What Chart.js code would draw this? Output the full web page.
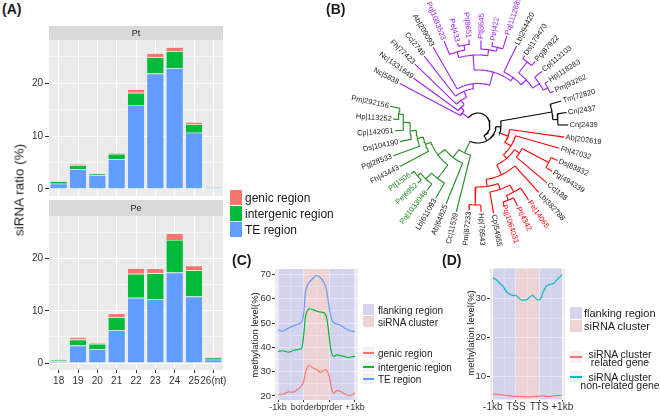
<!DOCTYPE html>
<html>
<head>
<meta charset="utf-8">
<script src="https://cdn.jsdelivr.net/npm/chart.js@4.4.0/dist/chart.umd.min.js"></script>
<style>
	body { margin: 0; width: 660px; height: 418px; position: relative; overflow: hidden; background: #fff; font-family: "Liberation Sans", Arial, sans-serif; color: #1a1a1a; }
	canvas { position: absolute; }
	.txt { position: absolute; white-space: nowrap; }
	.mid { transform: translateY(-50%); }
	.rot { transform: translate(-50%, -50%) rotate(-90deg); }
	.tag { font-weight: bold; font-size: 14px; }
	.key { position: absolute; }
	.line { position: absolute; left: 0; width: 100%; height: 2px; }
</style>
</head>
<body>
<canvas id="ptChart" width="240" height="170" style="left:0;top:26px"></canvas>
<canvas id="peChart" width="240" height="200" style="left:0;top:200px"></canvas>
<canvas id="treeChart" width="330" height="258" style="left:330px;top:0"></canvas>
<canvas id="cChart" width="150" height="158" style="left:230px;top:260px"></canvas>
<canvas id="dChart" width="140" height="158" style="left:440px;top:260px"></canvas>

<div class="txt tag" style="left:2px;top:1px">(A)</div>
<div class="txt tag" style="left:326px;top:1px">(B)</div>
<div class="txt tag" style="left:232px;top:252px">(C)</div>
<div class="txt tag" style="left:442px;top:252px">(D)</div>

<div class="txt rot" style="left:19px;top:190px;font-size:13.5px">siRNA ratio (%)</div>
<div class="txt rot" style="left:254px;top:335px;font-size:9.5px">methylation level(%)</div>
<div class="txt rot" style="left:470px;top:333px;font-size:9.5px">methylation level(%)</div>

<!-- legend (A) -->
<div class="key" style="left:230px;top:190px;width:12px;height:15px;background:#F8766D"></div>
<div class="key" style="left:230px;top:206px;width:12px;height:15px;background:#00BA38"></div>
<div class="key" style="left:230px;top:222px;width:12px;height:15px;background:#619CFF"></div>
<div class="txt mid" style="left:245px;top:197.5px;font-size:12px">genic region</div>
<div class="txt mid" style="left:245px;top:213.5px;font-size:12px">intergenic region</div>
<div class="txt mid" style="left:245px;top:229.5px;font-size:12px">TE region</div>

<!-- legend (C) -->
<div class="key" style="left:363px;top:304px;width:11px;height:11px;background:#D4D4ED"></div>
<div class="key" style="left:363px;top:316px;width:11px;height:11px;background:#EDD4D4"></div>
<div class="txt mid" style="left:378px;top:309.5px;font-size:10px">flanking region</div>
<div class="txt mid" style="left:378px;top:321.5px;font-size:10px">siRNA cluster</div>
<div class="key" style="left:363px;top:347px;width:11px;height:11px;background:#F2F2F2"><div class="line" style="top:4.5px;background:#F8766D"></div></div>
<div class="key" style="left:363px;top:361px;width:11px;height:11px;background:#F2F2F2"><div class="line" style="top:4.5px;background:#00BA38"></div></div>
<div class="key" style="left:363px;top:373px;width:11px;height:11px;background:#F2F2F2"><div class="line" style="top:4.5px;background:#619CFF"></div></div>
<div class="txt mid" style="left:378px;top:352.5px;font-size:10px">genic region</div>
<div class="txt mid" style="left:378px;top:366.5px;font-size:10px">intergenic region</div>
<div class="txt mid" style="left:378px;top:378.5px;font-size:10px">TE region</div>

<!-- legend (D) -->
<div class="key" style="left:570px;top:307px;width:12px;height:12px;background:#D4D4ED"></div>
<div class="key" style="left:570px;top:320px;width:12px;height:12px;background:#EDD4D4"></div>
<div class="txt mid" style="left:584px;top:312.5px;font-size:11px">flanking region</div>
<div class="txt mid" style="left:584px;top:326px;font-size:11px">siRNA cluster</div>
<div class="key" style="left:570px;top:351px;width:12px;height:12px;background:#F2F2F2"><div class="line" style="top:5px;background:#F8766D"></div></div>
<div class="key" style="left:570px;top:371px;width:12px;height:12px;background:#F2F2F2"><div class="line" style="top:5px;background:#00BFC4"></div></div>
<div class="txt" style="left:620px;top:358px;transform:translate(-50%,-50%);font-size:10.5px;line-height:7.5px;text-align:center">siRNA cluster<br>related gene</div>
<div class="txt" style="left:620px;top:381px;transform:translate(-50%,-50%);font-size:10.5px;line-height:8px;text-align:center">siRNA cluster<br>non-related gene</div>

<script>
// --- (A) siRNA ratio per length, stacked by region ---
const aCategories = ["18", "19", "20", "21", "22", "23", "24", "25", "26(nt)"];
const ptTE = [1.0, 3.75, 2.55, 5.65, 15.9, 21.85, 22.85, 10.65, 0.35];
const ptIntergenic = [0.45, 0.75, 0.35, 1.0, 2.3, 3.05, 3.25, 1.6, 0.05];
const ptGenic = [0.05, 0.25, 0.15, 0.2, 0.65, 0.8, 0.75, 0.4, 0.05];
const peTE = [0.35, 3.35, 2.65, 6.3, 12.5, 12.25, 17.35, 12.75, 0.65];
const peIntergenic = [0.25, 1.15, 1.0, 2.45, 4.6, 4.95, 6.25, 5.0, 0.4];
const peGenic = [0.05, 0.45, 0.2, 0.75, 1.1, 0.95, 1.25, 0.95, 0.2];
const aYTicks = [0, 10, 20];

// --- (C) methylation around siRNA clusters ---
const cPos = [0, 0.2, 0.4, 0.6, 0.8, 0.92, 1.0, 1.08, 1.2, 1.35, 1.5, 1.65, 1.8, 1.9, 2.0, 2.08, 2.16, 2.3, 2.45, 2.6, 2.75, 2.9, 3.0];
const cGenic = [20.6, 20.8, 21.7, 21.6, 23.0, 24.2, 26.0, 30.0, 32.6, 31.6, 30.9, 29.7, 30.6, 30.5, 28.0, 23.5, 21.2, 22.2, 21.8, 20.8, 20.2, 20.5, 21.3];
const cIntergenic = [38.3, 38.6, 38.0, 38.7, 39.2, 39.5, 45.0, 53.0, 55.8, 55.5, 54.9, 54.5, 54.2, 52.0, 44.0, 38.0, 36.3, 36.9, 36.5, 36.2, 35.8, 36.2, 36.3];
const cTE = [47.1, 46.7, 47.9, 48.8, 49.6, 50.3, 54.0, 63.5, 66.5, 68.2, 69.6, 68.6, 66.5, 63.0, 56.0, 51.9, 50.2, 49.6, 49.0, 47.8, 47.0, 46.6, 46.6];
const cXLabels = ["-1kb", "border", "bprder", "+1kb"];
const cYTicks = [20, 30, 40, 50, 60, 70];

// --- (D) methylation of genes ---
const dPos = [0, 0.17, 0.31, 0.45, 0.6, 0.75, 0.89, 1.0, 1.1, 1.25, 1.46, 1.61, 1.72, 1.82, 1.97, 2.07, 2.18, 2.33, 2.47, 2.61, 2.76, 2.9, 3.0];
const dRelated = [5.6, 5.5, 5.4, 5.3, 5.2, 5.1, 5.0, 5.0, 4.95, 4.9, 4.85, 4.85, 4.9, 4.95, 5.0, 5.05, 5.1, 5.0, 4.95, 5.1, 5.15, 5.2, 5.2];
const dNonRelated = [35.3, 34.7, 33.8, 33.0, 31.7, 31.0, 30.7, 30.8, 30.2, 29.6, 29.7, 30.4, 30.8, 30.2, 29.6, 30.0, 31.7, 33.2, 33.6, 33.8, 34.7, 35.5, 36.1];
const dXLabels = ["-1kb", "TSS", "TTS", "+1kb"];
const dYTicks = [10, 20, 30];

// region borders shared by (C) and (D): flanking | cluster | flanking
const regionEdges = [0, 1, 2, 3];

// --- (B) tree: tips in clockwise order, their depth, and internal nodes ---
const tipNames = [
	"Nc|5838", "Nc|1331649", "Fh|77423", "Cc|2749", "Ab|209093", "Pq|1083523", "Pe|433", "Pt|8651",
	"Pt|8645", "Pe|422", "Pq|1112885", "Lb|294420", "Ds|179470", "Pg|87922", "Cp|113103", "Hp|118283",
	"Pm|93262", "Tm|72820", "Cn|2437", "Cn|2439", "Ab|202619", "Fh|47032", "Ds|83832", "Pg|494339",
	"Cc|188", "Lb|382788", "Pe|14065", "Pt|4342", "Pq|1064031", "Cp|54955", "Hp|78543", "Pm|87233",
	"Cc|11539", "Ab|64825", "Lb|611093", "Pq|1033048", "Pe|6952", "Pt|1506", "Fh|43443", "Pg|28533",
	"Ds|104190", "Cp|142051", "Hp|113252", "Pm|292156",
];
const tipDepth = [
	88.6, 79.5, 87.7, 87.3, 89.7, 90.6, 84.3, 86, 84.5, 84.2, 93.4, 88, 83.5, 85.6, 83.6, 82.6,
	83, 86.8, 89.4, 90, 87, 84.6, 87, 87.2, 90, 90.8, 90.3, 90.1, 82.5, 89.5, 86.7, 85.7,
	89.4, 85, 84.5, 82.8, 83.5, 82.5, 88.4, 90.2, 79.8, 83.2, 84.9, 89.8,
];
const treeNodes = [
	["Root", 12, ["P0", "Y"]],
	["Y", 18, ["Z", "G0"]],
	["Z", 23, ["B0", "R0"]],
	["B0", 75, ["Tm|72820", "B1"]],
	["B1", 80, ["Cn|2437", "Cn|2439"]],
	["P0", 20, ["Nc|5838", "P1"]],
	["P1", 24.6, ["Nc|1331649", "P2"]],
	["P2", 30, ["Fh|77423", "P3"]],
	["P3", 36.5, ["Cc|2749", "P4"]],
	["P4", 41.5, ["Ab|209093", "P5"]],
	["P5", 55, ["Ptop", "Pright"]],
	["Ptop", 70, ["PtopA", "PtopB"]],
	["PtopA", 76, ["Pq|1083523", "PtopA2"]],
	["PtopA2", 81, ["Pe|433", "Pt|8651"]],
	["PtopB", 76, ["Pt|8645", "PtopB2"]],
	["PtopB2", 80, ["Pe|422", "Pq|1112885"]],
	["Pright", 59, ["Lb|294420", "Pr2"]],
	["Pr2", 66, ["Pr3", "Pr4"]],
	["Pr3", 80, ["Ds|179470", "Pg|87922"]],
	["Pr4", 74, ["Cp|113103", "Pr5"]],
	["Pr5", 79, ["Hp|118283", "Pm|93262"]],
	["R0", 32, ["Ab|202619", "R1"]],
	["R1", 39, ["Fh|47032", "R2"]],
	["R2", 44, ["R3", "R4"]],
	["R3", 50, ["R5", "Cc|188"]],
	["R5", 80, ["Ds|83832", "Pg|494339"]],
	["R4", 55, ["Lb|382788", "R6"]],
	["R6", 62, ["R7", "R8"]],
	["R7", 68, ["R9", "Cp|54955"]],
	["R9", 76, ["Pe|14065", "R10"]],
	["R10", 81, ["Pt|4342", "Pq|1064031"]],
	["R8", 80, ["Hp|78543", "Pm|87233"]],
	["G0", 31, ["Cc|11539", "G1"]],
	["G1", 41, ["Ab|64825", "G2"]],
	["G2", 50, ["G3", "G4"]],
	["G3", 67, ["Lb|611093", "G5"]],
	["G5", 75, ["Pq|1033048", "G6"]],
	["G6", 79, ["Pe|6952", "Pt|1506"]],
	["G4", 56, ["Fh|43443", "G7"]],
	["G7", 62, ["Pg|28533", "G8"]],
	["G8", 68, ["Ds|104190", "G9"]],
	["G9", 75, ["Cp|142051", "G10"]],
	["G10", 80, ["Hp|113252", "Pm|292156"]],
];
const cladeRoots = ["P0", "G0", "R0"];

// --- styling ---
const FONT = '"Liberation Sans", Arial, sans-serif';
const colGenic = "#F8766D";
const colIntergenic = "#00BA38";
const colTE = "#619CFF";
const cladeColors = ["#A020F0", "#228B22", "#FF0000"];
const flankFill = "rgba(0, 0, 255, 0.1)";
const clusterFill = "rgba(255, 0, 0, 0.1)";

// gray panel background + optional facet strip
const panelBg = {
	id: "panelBg",
	beforeDraw(chart, args, opts) {
		const { ctx, chartArea: a } = chart;
		ctx.save();
		ctx.fillStyle = "#EBEBEB";
		ctx.fillRect(a.left, a.top, a.right - a.left, a.bottom - a.top);
		if (opts.strip) {
			ctx.fillStyle = "#D9D9D9";
			ctx.fillRect(a.left, a.top - opts.stripHeight, a.right - a.left, opts.stripHeight);
			ctx.fillStyle = "#1a1a1a";
			ctx.font = "9px " + FONT;
			ctx.textAlign = "center";
			ctx.textBaseline = "middle";
			ctx.fillText(opts.strip, (a.left + a.right) / 2, a.top - opts.stripHeight / 2 + 0.5);
		}
		ctx.restore();
	},
};

// translucent region bands, drawn over the grid but under the lines
const bands = {
	id: "bands",
	beforeDatasetsDraw(chart, args, opts) {
		if (!opts.items) return;
		const { ctx, chartArea: a, scales } = chart;
		ctx.save();
		opts.items.forEach((b) => {
			const x1 = Math.max(a.left, scales.x.getPixelForValue(b.from));
			const x2 = Math.min(a.right, scales.x.getPixelForValue(b.to));
			ctx.fillStyle = b.color;
			ctx.fillRect(x1, a.top, x2 - x1, a.bottom - a.top);
		});
		ctx.restore();
	},
};

// majors plus the half-steps between them (ggplot minor grid)
function gridValues(majors, min, max) {
	const step = (majors[1] - majors[0]) / 2;
	let v = majors[0];
	while (v - step >= min) v -= step;
	const out = [];
	for (; v <= max + 1e-9; v += step) out.push(Math.round(v * 1000) / 1000);
	return out;
}

function isMajor(majors, c) {
	return c.tick ? majors.includes(c.tick.value) : true;
}

function contScale(min, max, majors, labels, opt) {
	return {
		min: min,
		max: max,
		afterBuildTicks: (s) => {
			s.ticks = gridValues(majors, min, max).map((v) => ({ value: v }));
		},
		afterFit: (s) => {
			if (opt.horizontal) s.height = opt.size;
			else s.width = opt.size;
			s.paddingLeft = s.paddingRight = s.paddingTop = s.paddingBottom = 0;
		},
		border: { display: false },
		grid: {
			color: "#ffffff",
			lineWidth: (c) => (isMajor(majors, c) ? 1 : 0.5),
			tickLength: opt.tickLength,
			tickColor: (c) => (isMajor(majors, c) ? "#333333" : "rgba(0,0,0,0)"),
		},
		ticks: {
			autoSkip: false,
			maxRotation: 0,
			padding: opt.padding,
			color: "#333333",
			font: { size: opt.fontSize, family: FONT },
			callback: (v) => {
				const i = majors.indexOf(v);
				return i < 0 ? "" : labels[i];
			},
		},
	};
}

// --- (A) stacked bar panels ---
function barPanel(id, te, inter, genic, strip, stripHeight, showX) {
	const bar = { barPercentage: 0.9, categoryPercentage: 1, borderColor: "rgba(255,255,255,0.7)", borderWidth: 0.6 };
	return new Chart(document.getElementById(id), {
		type: "bar",
		data: {
			labels: aCategories,
			datasets: [
				Object.assign({ label: "TE region", data: te, backgroundColor: colTE }, bar),
				Object.assign({ label: "intergenic region", data: inter, backgroundColor: colIntergenic }, bar),
				Object.assign({ label: "genic region", data: genic, backgroundColor: colGenic }, bar),
			],
		},
		options: {
			responsive: false,
			animation: false,
			events: [],
			layout: { padding: { top: stripHeight, left: 0, right: 17, bottom: 0 } },
			plugins: {
				legend: { display: false },
				tooltip: { enabled: false },
				panelBg: { strip: strip, stripHeight: stripHeight },
			},
			scales: {
				x: {
					stacked: true,
					afterFit: (s) => {
						s.height = showX ? 30 : 0;
						s.paddingLeft = s.paddingRight = 0;
					},
					border: { display: false },
					grid: { color: "#ffffff", lineWidth: 1, offset: false, drawTicks: showX, tickLength: 3, tickColor: "#333333" },
					ticks: { display: showX, padding: 2, color: "#333333", font: { size: 10, family: FONT }, maxRotation: 0, autoSkip: false },
				},
				y: Object.assign(
					{ stacked: true },
					contScale(-1.34, 28.2, aYTicks, aYTicks.map(String), { size: 49, tickLength: 4, padding: 2, fontSize: 10 })
				),
			},
		},
		plugins: [panelBg],
	});
}

barPanel("ptChart", ptTE, ptIntergenic, ptGenic, "Pt", 14, false);
barPanel("peChart", peTE, peIntergenic, peGenic, "Pe", 16, true);

// --- (C) and (D) methylation profiles ---
function profilePanel(id, xs, series, yMin, yMax, yMajors, xLabels, box) {
	return new Chart(document.getElementById(id), {
		type: "scatter",
		data: {
			datasets: series.map((s) => ({
				label: s.label,
				data: xs.map((x, i) => ({ x: x, y: s.values[i] })),
				showLine: true,
				borderColor: s.color,
				borderWidth: 1.2,
				pointRadius: 0,
				tension: 0.3,
			})),
		},
		options: {
			responsive: false,
			animation: false,
			events: [],
			layout: { padding: { top: box.top, left: 0, right: box.right, bottom: 0 } },
			plugins: {
				legend: { display: false },
				tooltip: { enabled: false },
				bands: {
					items: [
						{ from: regionEdges[0], to: regionEdges[1], color: flankFill },
						{ from: regionEdges[1], to: regionEdges[2], color: clusterFill },
						{ from: regionEdges[2], to: regionEdges[3], color: flankFill },
					],
				},
			},
			scales: {
				x: contScale(-0.12, 3.12, regionEdges, xLabels, { horizontal: true, size: box.xHeight, tickLength: 2, padding: 0, fontSize: box.xFont }),
				y: contScale(yMin, yMax, yMajors, yMajors.map(String), { size: box.yWidth, tickLength: 3, padding: 1, fontSize: 9.5 }),
			},
		},
		plugins: [panelBg, bands],
	});
}

profilePanel(
	"cChart",
	cPos,
	[
		{ label: "genic region", values: cGenic, color: colGenic },
		{ label: "intergenic region", values: cIntergenic, color: colIntergenic },
		{ label: "TE region", values: cTE, color: colTE },
	],
	18.35, 72.2, cYTicks, cXLabels,
	{ top: 9, right: 22, yWidth: 45, xHeight: 18, xFont: 9 }
);

profilePanel(
	"dChart",
	dPos,
	[
		{ label: "siRNA cluster related gene", values: dRelated, color: "#F8766D" },
		{ label: "siRNA cluster non-related gene", values: dNonRelated, color: "#00BFC4" },
	],
	4.18, 37.65, dYTicks, dXLabels,
	{ top: 8.5, right: 15, yWidth: 50, xHeight: 18.5, xFont: 10 }
);

// --- (B) circular tree ---
const nodeMap = {};
treeNodes.forEach((n) => (nodeMap[n[0]] = n));

function angleOf(name) {
	const k = tipNames.indexOf(name);
	if (k >= 0) return 208 + 8 * k;
	const kids = nodeMap[name][2];
	return (angleOf(kids[0]) + angleOf(kids[kids.length - 1])) / 2;
}

function radiusOf(name) {
	const k = tipNames.indexOf(name);
	return k >= 0 ? tipDepth[k] : nodeMap[name][1];
}

function polar(r, deg) {
	const a = (deg * Math.PI) / 180;
	return { x: r * Math.cos(a), y: -r * Math.sin(a) };
}

const branchColor = {};
function walk(name, inherited) {
	const ci = cladeRoots.indexOf(name);
	const own = ci >= 0 ? cladeColors[ci] : inherited;
	branchColor[name] = own;
	if (nodeMap[name]) nodeMap[name][2].forEach((c) => walk(c, own));
}
walk("Root", "#000000");

const treeSegments = [];
treeNodes.forEach(([name, r, kids]) => {
	const a1 = angleOf(kids[0]);
	const a2 = angleOf(kids[kids.length - 1]);
	const arc = [];
	for (let a = a1; a < a2; a += 2) arc.push(polar(r, a));
	arc.push(polar(r, a2));
	treeSegments.push({ pts: arc, color: branchColor[name] });
	kids.forEach((c) => {
		const ac = angleOf(c);
		treeSegments.push({ pts: [polar(r, ac), polar(radiusOf(c), ac)], color: branchColor[c] });
	});
});

const tipLabels = {
	id: "tipLabels",
	afterDatasetsDraw(chart) {
		const { ctx, scales } = chart;
		ctx.save();
		ctx.font = "7.5px " + FONT;
		ctx.textBaseline = "middle";
		tipNames.forEach((name, k) => {
			const deg = angleOf(name);
			const p = polar(tipDepth[k] + 1.5, deg);
			let d = ((deg % 360) + 360) % 360;
			if (d > 180) d -= 360;
			ctx.save();
			ctx.translate(scales.x.getPixelForValue(p.x), scales.y.getPixelForValue(p.y));
			if (Math.abs(d) <= 90) {
				ctx.rotate((d * Math.PI) / 180);
				ctx.textAlign = "left";
			} else {
				ctx.rotate(((d + 180) * Math.PI) / 180);
				ctx.textAlign = "right";
			}
			ctx.fillStyle = /^(Pt|Pe|Pq)\|/.test(name) ? branchColor[name] : "#1a1a1a";
			ctx.fillText(name, 0, 0);
			ctx.restore();
		});
		ctx.restore();
	},
};

new Chart(document.getElementById("treeChart"), {
	type: "scatter",
	data: {
		datasets: treeSegments.map((s) => ({
			data: s.pts,
			showLine: true,
			borderColor: s.color,
			borderWidth: 1.1,
			pointRadius: 0,
			tension: 0,
		})),
	},
	options: {
		responsive: false,
		animation: false,
		events: [],
		layout: { padding: 0 },
		plugins: { legend: { display: false }, tooltip: { enabled: false } },
		scales: {
			x: { display: false, min: -148, max: 182 },
			y: { display: false, min: -133, max: 125 },
		},
	},
	plugins: [tipLabels],
});
</script>
</body>
</html>
